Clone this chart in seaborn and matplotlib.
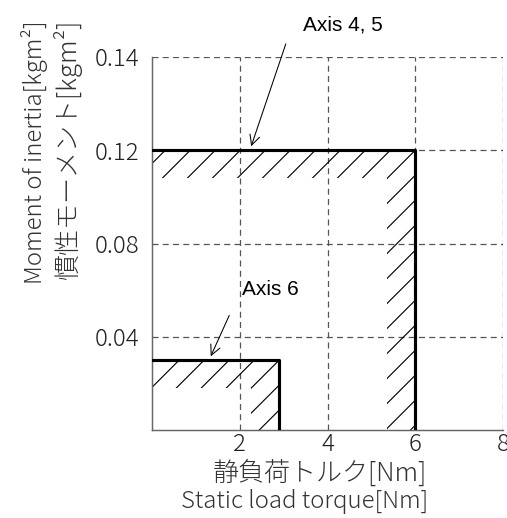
import numpy as np
import pandas as pd
import matplotlib
matplotlib.use("Agg")
import matplotlib.pyplot as plt
from matplotlib.patches import Polygon
import seaborn as sns

# ---- data ----
series = ["Axis 4, 5", "Axis 6"]
torque_limit = [6.0, 2.9]        # Nm
inertia_limit = [0.12, 0.03]     # kgm^2
x_ticks = [2, 4, 6, 8]
y_tick_pos = [0.04, 0.08, 0.12, 0.16]
y_tick_labels = ["0.04", "0.08", "0.12", "0.14"]
xlabel_jp = "静負荷トルク[Nm]"
xlabel_en = "Static load torque[Nm]"
ylabel_en = "Moment of inertia[kgm²]"
ylabel_jp = "慣性モーメント[kgm²]"

sns.set_theme(style="white")
plt.rcParams["font.family"] = ["Noto Sans CJK JP", "DejaVu Sans"]

rows = []
for s, t, m in zip(series, torque_limit, inertia_limit):
    for i, (xx, yy) in enumerate([(0, m), (t, m), (t, 0)]):
        rows.append({"series": s, "order": i, "torque": xx, "inertia": yy})
df = pd.DataFrame(rows)

DPI = 150
fig = plt.figure(figsize=(507 / DPI, 518 / DPI), dpi=DPI)
ax_w_px, ax_h_px = 503 - 152, 430 - 57
ax = fig.add_axes([152 / 507, 1 - 430 / 518, ax_w_px / 507, ax_h_px / 518])

XMAX, YMAX = 8, 0.16
ax.set_xlim(0, XMAX)
ax.set_ylim(0, YMAX)
sx = ax_w_px / XMAX   # px per x unit
sy = ax_h_px / YMAX   # px per y unit

# hatched L-shaped bands inside the limits (manual 45-degree hatch, ~25 px apart)
band_px, gap_px = 28, 25
for t, m in zip(torque_limit, inertia_limit):
    bw, bh = band_px / sx, band_px / sy
    poly = [(0, m), (t, m), (t, 0), (t - bw, 0), (t - bw, m - bh), (0, m - bh)]
    patch = Polygon(poly, closed=True, facecolor="none", edgecolor="none")
    ax.add_patch(patch)
    k_lo = -int(m * sy / gap_px) - 2
    k_hi = int(t * sx / gap_px) + 2
    for k in range(k_lo, k_hi):
        # line through (t - k*gap, m) with 45 deg slope in pixel space
        x0 = t - k * gap_px / sx
        xs = np.array([x0 - 500 / sx, x0 + 500 / sx])
        ys = m + (xs - x0) * sx / sy
        ln, = ax.plot(xs, ys, color="black", lw=0.55, zorder=2)
        ln.set_clip_path(patch)

sns.lineplot(data=df, x="torque", y="inertia", units="series", estimator=None,
             sort=False, color="black", linewidth=1.5, ax=ax, zorder=4)

ax.set_xticks(x_ticks)
ax.set_xticklabels([str(v) for v in x_ticks])
ax.set_yticks(y_tick_pos)
ax.set_yticklabels(y_tick_labels)
ax.tick_params(axis="both", length=0, labelsize=11.5, colors="#222")
for lbl in ax.get_xticklabels() + ax.get_yticklabels():
    lbl.set_fontweight("light")
ax.tick_params(axis="y", pad=6)
ax.tick_params(axis="x", pad=1)
ax.grid(True, color="#555", linestyle=(0, (4.8, 3.4)), linewidth=0.6)
ax.set_axisbelow(True)
for sp in ["top", "right"]:
    ax.spines[sp].set_visible(False)
for sp in ["left", "bottom"]:
    ax.spines[sp].set_color("#666")
    ax.spines[sp].set_linewidth(0.7)
ax.set_xlabel("")
ax.set_ylabel("")
ax.set_xlim(0, XMAX)
ax.set_ylim(0, YMAX)

# annotations
ann_font = dict(family="Liberation Sans", fontsize=10, color="black")
ax.text(4.35, 0.1738, series[0], ha="center", va="center", **ann_font)
ax.annotate("", xy=(2.23, inertia_limit[0]), xytext=(3.08, 0.1673),
            arrowprops=dict(arrowstyle="->", lw=0.5, color="black", mutation_scale=12),
            annotation_clip=False)
ax.text(2.69, 0.0602, series[1], ha="center", va="center", **ann_font)
ax.annotate("", xy=(1.30, inertia_limit[1]), xytext=(1.80, 0.0508),
            arrowprops=dict(arrowstyle="->", lw=0.5, color="black", mutation_scale=12),
            annotation_clip=False)

lab = dict(color="#333", fontweight="light")
fig.text(35 / 507, 1 - 152 / 518, ylabel_en, rotation=90, ha="center", va="center",
         fontsize=11.5, **lab)
fig.text(68 / 507, 1 - 150 / 518, ylabel_jp, rotation=90, ha="center", va="center",
         fontsize=12.5, **lab)
fig.text(320 / 507, 1 - 473 / 518, xlabel_jp, ha="center", va="center",
         fontsize=12.5, **lab)
fig.text(305 / 507, 1 - 501 / 518, xlabel_en, ha="center", va="center",
         fontsize=11.5, **lab)

fig.savefig("out.png", dpi=DPI)
